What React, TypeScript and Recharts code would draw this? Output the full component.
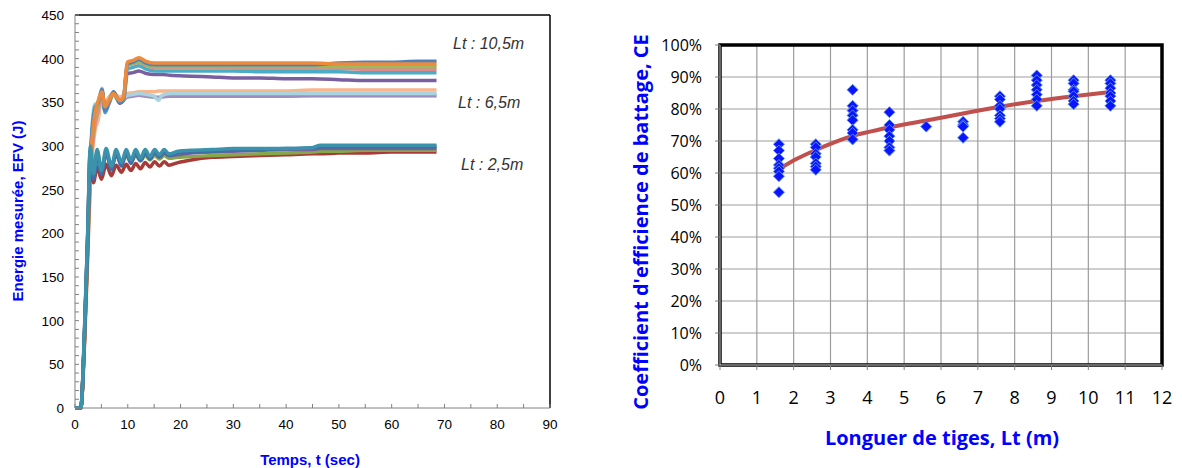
import {
  LineChart,
  Line,
  XAxis,
  YAxis,
  ReferenceLine,
  ReferenceArea,
  ComposedChart,
  Scatter,
  CartesianGrid,
} from "recharts";

// ---- Left chart: energie mesurée vs temps ----
const timeTicks = [0, 5, 10, 15, 20, 25, 30, 35, 40, 45, 50, 55, 60, 65, 70, 75, 80, 85, 90];
const timeLabels = [0, 10, 20, 30, 40, 50, 60, 70, 80, 90];
const energyTicks = [0, 10, 20, 30, 40, 50, 60, 70, 80, 90, 100, 110, 120, 130, 140, 150, 160, 170, 180, 190, 200, 210, 220, 230, 240, 250, 260, 270, 280, 290, 300, 310, 320, 330, 340, 350, 360, 370, 380, 390, 400, 410, 420, 430, 440, 450];
const energyLabels = [0, 50, 100, 150, 200, 250, 300, 350, 400, 450];
const groupNotes = ["Lt : 10,5m", "Lt : 6,5m", "Lt : 2,5m"];

// Lt : 2,5m
const tShort = [0, 1.1, 1.8, 2.4, 2.9, 3.5, 4.2, 5.0, 5.9, 6.9, 7.8, 8.8, 9.7, 10.6, 11.5, 12.4, 13.3, 14.2, 15.1, 16.0, 16.9, 17.8, 19.5, 22, 26, 30, 35, 40, 45, 46.5, 50, 55, 60, 65, 68.5];
const teal25 = [0, 0, 90, 200, 300, 268, 296, 272, 297, 277, 296, 281, 296, 284, 296, 286, 296, 288, 296, 290, 296, 291, 294, 295, 296, 297, 297, 297, 298, 301, 301, 301, 301, 301, 301];
const blue25 = [0, 0, 85, 195, 292, 262, 290, 268, 292, 273, 291, 277, 292, 280, 292, 283, 292, 285, 293, 287, 293, 289, 292, 293, 294, 295, 296, 297, 298, 299, 299, 299, 299, 299, 299];
const purple25 = [0, 0, 88, 198, 295, 265, 292, 270, 292, 276, 291, 279, 291, 282, 291, 284, 292, 286, 292, 288, 292, 289, 290, 292, 293, 294, 295, 296, 296, 297, 297, 297, 297, 297, 297];
const green25 = [0, 0, 86, 196, 296, 270, 294, 274, 292, 278, 290, 280, 289, 282, 289, 283, 289, 284, 289, 285, 289, 286, 287, 288, 289, 290, 291, 292, 293, 294, 294, 295, 295, 295, 295];
const red25 = [0, 0, 80, 185, 282, 258, 276, 262, 279, 266, 278, 270, 279, 272, 280, 274, 281, 276, 282, 277, 282, 278, 281, 284, 287, 288, 289, 290, 291, 291, 292, 292, 293, 293, 293];

// Lt : 6,5m and 10,5m
const tLong = [0, 1.1, 1.8, 2.4, 2.9, 3.8, 4.4, 5.1, 5.7, 6.4, 7.3, 8.5, 9.2, 9.9, 11, 12.1, 13.5, 15, 15.8, 16.5, 18, 22, 26, 30, 35, 40, 45, 50, 55, 60, 65, 68.5];
const orange105 = [0, 0, 80, 185, 275, 338, 352, 362, 345, 352, 360, 352, 356, 396, 398, 401, 397, 395, 395, 395, 395, 395, 395, 395, 395, 395, 395, 394, 394, 394, 394, 394];
const blue105 = [0, 0, 82, 190, 280, 342, 350, 365, 340, 350, 362, 350, 355, 394, 396, 399, 395, 393, 393, 393, 393, 393, 393, 393, 393, 393, 393, 395, 396, 396, 397, 397];
const green105 = [0, 0, 78, 182, 272, 335, 348, 360, 342, 350, 358, 351, 354, 393, 395, 397, 393, 391, 391, 391, 391, 391, 391, 391, 391, 391, 391, 391, 391, 391, 391, 391];
const pink105 = [0, 0, 75, 175, 262, 325, 340, 358, 348, 352, 359, 353, 355, 392, 394, 396, 392, 390, 390, 390, 390, 390, 390, 389, 389, 389, 389, 389, 388, 388, 388, 388];
const teal105 = [0, 0, 84, 192, 282, 345, 348, 364, 338, 349, 361, 350, 353, 388, 390, 392, 388, 386, 386, 386, 386, 386, 386, 386, 385, 385, 385, 385, 384, 384, 384, 384];
const purple105 = [0, 0, 80, 186, 276, 340, 345, 362, 340, 348, 360, 349, 352, 383, 384, 386, 383, 382, 382, 382, 381, 380, 379, 378, 378, 377, 377, 376, 375, 375, 375, 375];
const orange65 = [0, 0, 70, 170, 255, 318, 330, 355, 350, 356, 360, 356, 358, 360, 361, 362, 362, 362, 363, 363, 363, 363, 363, 363, 363, 363, 364, 364, 364, 364, 364, 364];
const lightblue65 = [0, 0, 85, 195, 285, 348, 340, 366, 342, 352, 362, 350, 354, 358, 359, 360, 359, 357, 352, 358, 360, 360, 360, 360, 360, 360, 360, 360, 360, 360, 360, 360];
const purple65 = [0, 0, 82, 188, 278, 342, 345, 362, 340, 350, 360, 349, 353, 356, 357, 358, 357, 356, 355, 356, 357, 357, 357, 357, 357, 357, 358, 358, 358, 358, 358, 358];
const gray65 = [0, 0, 80, 185, 276, 340, 344, 360, 341, 350, 359, 350, 352, 357, 358, 358, 357, 356, 356, 357, 357, 357, 357, 357, 357, 357, 357, 357, 357, 357, 357, 357];

const energySeries = [
  { key: "gray65", t: tLong, v: gray65, color: "#b9c3cb" },
  { key: "purple65", t: tLong, v: purple65, color: "#9f8dc1" },
  { key: "orange65", t: tLong, v: orange65, color: "#f9b48a" },
  { key: "lightblue65", t: tLong, v: lightblue65, color: "#a8d3df" },
  { key: "purple105", t: tLong, v: purple105, color: "#7a5fa0" },
  { key: "teal105", t: tLong, v: teal105, color: "#4bacc6" },
  { key: "pink105", t: tLong, v: pink105, color: "#d98c8a" },
  { key: "green105", t: tLong, v: green105, color: "#9bbb59" },
  { key: "blue105", t: tLong, v: blue105, color: "#4f81bd" },
  { key: "orange105", t: tLong, v: orange105, color: "#ee8a3c" },
  { key: "red25", t: tShort, v: red25, color: "#a83a37" },
  { key: "green25", t: tShort, v: green25, color: "#86a84a" },
  { key: "purple25", t: tShort, v: purple25, color: "#7a5fa0" },
  { key: "blue25", t: tShort, v: blue25, color: "#3f6ea8" },
  { key: "teal25", t: tShort, v: teal25, color: "#3b93ab" },
].map((s) => ({ ...s, data: s.t.map((t, i) => ({ t, v: s.v[i] })) }));

// ---- Right chart: coefficient d'efficience vs longueur de tiges ----
const lengthTicks = [0, 1, 2, 3, 4, 5, 6, 7, 8, 9, 10, 11, 12];
const ceTicks = [0, 10, 20, 30, 40, 50, 60, 70, 80, 90, 100];
const lengths = [1.6, 2.6, 3.6, 4.6, 5.6, 6.6, 7.6, 8.6, 9.6, 10.6];
const ce16 = [69, 67, 64.5, 62.5, 61.5, 60.5, 59, 54];
const ce26 = [69, 68, 66, 65, 63, 62, 61];
const ce36 = [86, 81, 79.5, 78, 76.5, 73.5, 72.5, 70.5];
const ce46 = [79, 75, 73.5, 71.5, 70, 68, 67];
const ce56 = [74.5];
const ce66 = [76, 75, 74.5, 71];
const ce76 = [84, 83, 81, 80, 78, 77, 76];
const ce86 = [90.5, 89, 87.5, 86, 84.5, 83, 81];
const ce96 = [89, 88, 86, 85.5, 84, 82.5, 81.5];
const ce106 = [89, 88, 86.5, 85, 84, 82.5, 81];
const trendX = [1.6, 2.1, 2.6, 3.1, 3.6, 4.1, 4.6, 5.6, 6.6, 7.6, 8.6, 9.6, 10.6];
const trendY = [61.2, 64.5, 67.2, 69.6, 71.6, 73, 74.3, 76.4, 78.6, 80.7, 82.5, 84, 85.3];

const ceColumns = [ce16, ce26, ce36, ce46, ce56, ce66, ce76, ce86, ce96, ce106];
const cePoints = lengths.flatMap((x, i) => ceColumns[i].map((y) => ({ x, y })));
const trendData = trendX.map((x, i) => ({ x, y: trendY[i] }));

const ARIAL = "'Liberation Sans', Arial, sans-serif";
const CALIBRI = "'Open Sans', 'Noto Sans', sans-serif";

function EnergyTick({ x, y, payload }: any) {
  const v = payload.value;
  return (
    <g>
      <line x1={x + 11} x2={x + 15} y1={y} y2={y} stroke="#808080" />
      {energyLabels.includes(v) && (
        <text x={x} y={y} dy={5} textAnchor="end" fontSize={13.5} fontFamily={ARIAL} fill="#000">
          {v}
        </text>
      )}
    </g>
  );
}

function TimeTick({ x, y, payload }: any) {
  const v = payload.value;
  return (
    <g>
      <line x1={x} x2={x} y1={y - 8} y2={y - 12} stroke="#808080" />
      {timeLabels.includes(v) && (
        <text x={x} y={y} dy={13} textAnchor="middle" fontSize={13.5} fontFamily={ARIAL} fill="#000">
          {v}
        </text>
      )}
    </g>
  );
}

function Diamond({ cx, cy }: any) {
  const r = 5.5;
  return (
    <polygon
      points={`${cx},${cy - r} ${cx + r},${cy} ${cx},${cy + r} ${cx - r},${cy}`}
      fill="#0a14ff"
      stroke="#5b8ee6"
      strokeWidth={1}
    />
  );
}

const titleBase = {
  position: "absolute" as const,
  whiteSpace: "nowrap" as const,
  fontWeight: 700,
  color: "#0000ff",
};

const noteStyle = {
  position: "absolute" as const,
  whiteSpace: "nowrap" as const,
  fontFamily: ARIAL,
  fontStyle: "italic" as const,
  fontSize: 16,
  color: "#333",
  transform: "translateY(-50%)",
};

export default function App() {
  return (
    <div style={{ position: "absolute", left: 0, top: 0, width: 1182, height: 468, background: "#fff" }}>
      <div style={{ position: "absolute", left: 0, top: 0 }}>
        <LineChart width={600} height={468} margin={{ top: 15, right: 50, bottom: 30, left: 25 }}>
          <XAxis
            type="number"
            dataKey="t"
            domain={[0, 90]}
            ticks={timeTicks}
            interval={0}
            tickSize={0}
            tickMargin={8}
            height={30}
            stroke="#808080"
            tick={<TimeTick />}
            allowDataOverflow
          />
          <YAxis
            type="number"
            domain={[0, 450]}
            ticks={energyTicks}
            interval={0}
            tickSize={0}
            tickMargin={11}
            width={50}
            stroke="#808080"
            tick={<EnergyTick />}
          />
          <ReferenceLine y={450} stroke="#000" strokeWidth={1.5} />
          <ReferenceLine x={90} stroke="#000" strokeWidth={1.5} />
          {energySeries.map((s) => (
            <Line
              key={s.key}
              data={s.data}
              dataKey="v"
              type="monotone"
              stroke={s.color}
              strokeWidth={3.5}
              dot={false}
              isAnimationActive={false}
            />
          ))}
        </LineChart>
      </div>

      <div style={{ ...noteStyle, left: 453, top: 44 }}>{groupNotes[0]}</div>
      <div style={{ ...noteStyle, left: 458, top: 103 }}>{groupNotes[1]}</div>
      <div style={{ ...noteStyle, left: 461, top: 165 }}>{groupNotes[2]}</div>

      <div style={{ ...titleBase, left: 17, top: 211, transform: "translate(-50%, -50%) rotate(-90deg)", fontFamily: ARIAL, fontSize: 15 }}>
        Energie mesurée, EFV (J)
      </div>
      <div style={{ ...titleBase, left: 310, top: 459, transform: "translate(-50%, -50%)", fontFamily: ARIAL, fontSize: 15 }}>
        Temps, t (sec)
      </div>

      <div style={{ position: "absolute", left: 600, top: 0 }}>
        <ComposedChart width={582} height={468} margin={{ top: 45, right: 20, bottom: 63, left: 50 }}>
          <CartesianGrid stroke="#9d9d9d" strokeWidth={1.2} />
          <XAxis
            type="number"
            dataKey="x"
            domain={[0, 12]}
            ticks={lengthTicks}
            interval={0}
            height={40}
            axisLine={false}
            tickSize={5}
            tickMargin={21}
            tickLine={{ stroke: "#7f7f7f" }}
            tick={{ fontSize: 18, fontFamily: CALIBRI, fill: "#000" }}
          />
          <YAxis
            type="number"
            domain={[0, 100]}
            ticks={ceTicks}
            interval={0}
            width={70}
            axisLine={false}
            tickSize={5}
            tickMargin={13}
            tickLine={{ stroke: "#7f7f7f" }}
            tickFormatter={(v: number) => `${v}%`}
            tick={{ fontSize: 16, fontFamily: CALIBRI, fill: "#000" }}
          />
          <ReferenceArea x1={0} x2={12} y1={0} y2={100} fill="none" stroke="#000" strokeWidth={3.5} />
          <ReferenceLine x={0} stroke="#d0d0d0" strokeWidth={1} />
          <ReferenceLine y={0} stroke="#d0d0d0" strokeWidth={1} />
          <Scatter data={cePoints} dataKey="y" shape={<Diamond />} isAnimationActive={false} />
          <Line
            data={trendData}
            dataKey="y"
            type="monotone"
            stroke="#c0504d"
            strokeWidth={4}
            dot={false}
            isAnimationActive={false}
          />
        </ComposedChart>
      </div>

      <div style={{ ...titleBase, left: 640, top: 222, transform: "translate(-50%, -50%) rotate(-90deg)", fontFamily: CALIBRI, fontSize: 20 }}>
        Coefficient d'efficience de battage, CE
      </div>
      <div style={{ ...titleBase, left: 942, top: 437, transform: "translate(-50%, -50%)", fontFamily: CALIBRI, fontSize: 20 }}>
        Longuer de tiges, Lt (m)
      </div>
    </div>
  );
}
